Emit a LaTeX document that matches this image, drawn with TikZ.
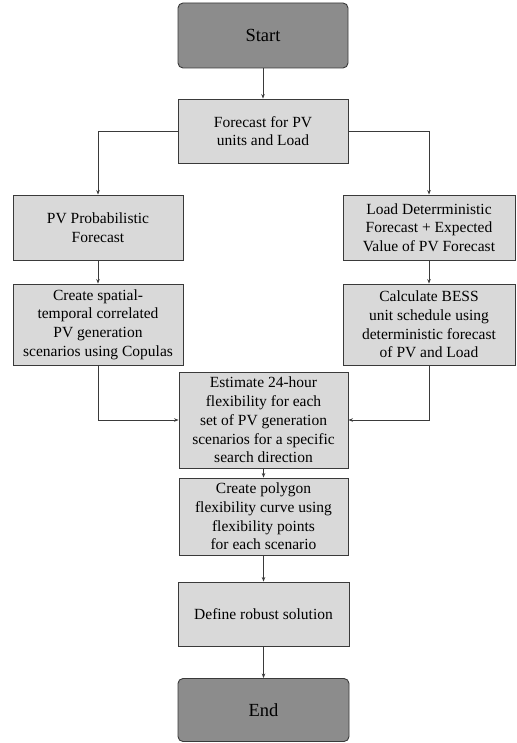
\documentclass[tikz,border=0pt]{standalone}
\usepackage{fontspec}
\setmainfont{Liberation Serif}
\usetikzlibrary{arrows.meta}
\definecolor{boxlight}{HTML}{D9D9D9}
\definecolor{boxdark}{HTML}{8C8C8C}
\definecolor{linecol}{HTML}{3A3A3A}
\tikzset{
  procbox/.style={draw=linecol, line width=0.9pt, fill=boxlight, inner sep=0pt,
    align=center, font=\fontsize{15.5}{18.7}\selectfont},
  termbox/.style={draw=linecol, line width=0.9pt, fill=boxdark, rounded corners=5pt,
    inner sep=0pt, align=center, font=\fontsize{18.5}{22}\selectfont},
  conn/.style={draw=linecol, line width=0.8pt, -{Stealth[length=4.5pt,width=3.5pt]}},
}
\begin{document}
\begin{tikzpicture}[x=1pt,y=-1pt]
\useasboundingbox (0,0) rectangle (516,743);
% nodes: center (x,y), size
\node[termbox, minimum width=170pt, minimum height=65pt] (start) at (263,35.5) {Start};
\node[procbox, minimum width=170pt, minimum height=64pt] (fc) at (263,131) {Forecast for PV\\units and Load};
\node[procbox, minimum width=170pt, minimum height=65pt] (pvp) at (98,227.5) {PV Probabilistic\\Forecast};
\node[procbox, minimum width=170pt, minimum height=81pt] (cs) at (98,324.5) {Create spatial-\\temporal correlated\\PV generation\\scenarios using Copulas};
\node[procbox, minimum width=172pt, minimum height=65pt] (ld) at (429,227.5) {Load Deterrministic\\Forecast + Expected\\Value of PV Forecast};
\node[procbox, minimum width=172pt, minimum height=81pt] (cb) at (429,324.5) {Calculate BESS\\unit schedule using\\deterministic forecast\\of PV and Load};
\node[procbox, minimum width=169pt, minimum height=96pt] (est) at (263.5,420) {Estimate 24-hour\\flexibility for each\\set of PV generation\\scenarios for a specific\\search direction};
\node[procbox, minimum width=169pt, minimum height=77pt] (poly) at (263.5,516.5) {Create polygon\\flexibility curve using\\flexibility points\\for each scenario};
\node[procbox, minimum width=171pt, minimum height=64pt] (rob) at (263.5,614) {Define robust solution};
\node[termbox, minimum width=171pt, minimum height=63pt] (end) at (263.5,710) {End};
% connectors
\draw[conn] (start.south) -- (fc.north);
\draw[conn] (fc.west) -| (pvp.north);
\draw[conn] (fc.east) -| (ld.north);
\draw[conn] (pvp.south) -- (cs.north);
\draw[conn] (ld.south) -- (cb.north);
\draw[conn] (cs.south) |- (est.west);
\draw[conn] (cb.south) |- (est.east);
\draw[conn] (est.south) -- (poly.north);
\draw[conn] (poly.south) -- (rob.north);
\draw[conn] (rob.south) -- (end.north);
\end{tikzpicture}
\end{document}
